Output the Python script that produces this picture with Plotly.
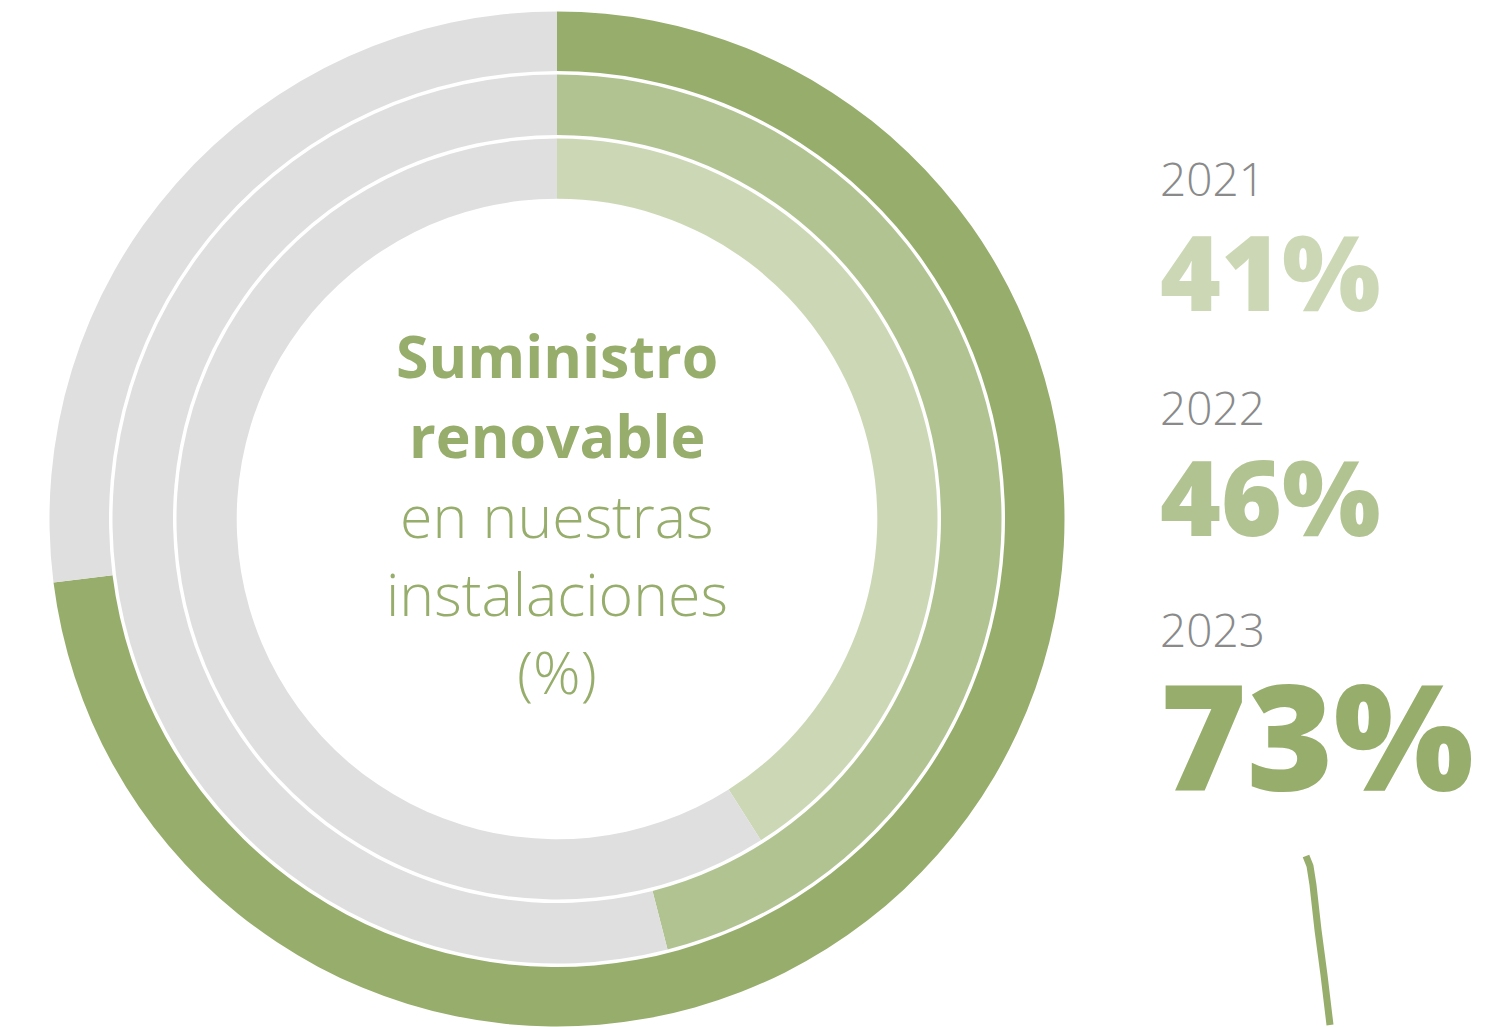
import plotly.graph_objects as go

# Data
years = ["2021", "2022", "2023"]
renewable = [41, 46, 73]
ring_colors = ["#CCD8B5", "#B2C392", "#97AD6C"]
rest_color = "#DFDFDF"

OFF = 8  # default page body margin
W, H = 1500 - OFF, 1027 - OFF
CX, CY = 557, 519  # screen pixel centre of the rings
# ring geometry (px): outer radius, inner radius  (inner ring -> outer ring)
rings = [(380.5, 320.3), (444.5, 384.0), (507.5, 448.0)]

def px_x(x):
    return (x - OFF) / W

def px_y(y):
    return 1 - (y - OFF) / H

fig = go.Figure()
for val, col, (ro, ri) in zip(renewable, ring_colors, rings):
    fig.add_trace(go.Pie(
        values=[val, 100 - val],
        labels=["renovable", "resto"],
        marker=dict(colors=[col, rest_color], line=dict(width=0)),
        hole=ri / ro,
        sort=False,
        direction="clockwise",
        rotation=0,
        textinfo="none",
        hoverinfo="skip",
        showlegend=False,
        domain=dict(x=[px_x(CX - ro), px_x(CX + ro)],
                    y=[px_y(CY + ro), px_y(CY - ro)]),
    ))

annos = []
green = "#97AD6C"
# centre text
center_lines = [
    ("Suministro", 700, 355),
    ("renovable", 700, 435),
    ("en nuestras", 300, 515),
    ("instalaciones", 300, 593),
    ("(%)", 300, 671),
]
for txt, wt, y in center_lines:
    annos.append(dict(text=txt, x=px_x(CX), y=px_y(y), xref="paper", yref="paper",
                      xanchor="center", yanchor="middle", showarrow=False,
                      font=dict(family="Open Sans", size=59, color=green, weight=wt)))

# right-hand labels
year_y = [178, 407, 629]
pct_y = [270, 495, 733]
pct_size = [104, 104, 148]
for yr, v, col, yy, py, ps in zip(years, renewable, ring_colors, year_y, pct_y, pct_size):
    annos.append(dict(text=yr, x=px_x(1158), y=px_y(yy), xref="paper", yref="paper",
                      xanchor="left", yanchor="middle", showarrow=False,
                      font=dict(family="Open Sans", size=46, color="#8A8A8A", weight=300)))
    annos.append(dict(text=f"{v}%", x=px_x(1158), y=px_y(py), xref="paper", yref="paper",
                      xanchor="left", yanchor="middle", showarrow=False,
                      font=dict(family="Open Sans", size=ps, color=col, weight=800)))

# decorative hand-drawn stroke
pts = [(1306, 856), (1310, 866), (1313, 885), (1318, 930), (1324, 975), (1330, 1025)]
path = "M " + " L ".join(f"{px_x(x):.5f},{px_y(y):.5f}" for x, y in pts)
shapes = [dict(type="path", path=path, xref="paper", yref="paper",
               line=dict(color=green, width=7))]

fig.update_layout(
    width=W, height=H,
    margin=dict(l=0, r=0, t=0, b=0),
    paper_bgcolor="white", plot_bgcolor="white",
    annotations=annos, shapes=shapes,
)
fig.write_html("out.html")
